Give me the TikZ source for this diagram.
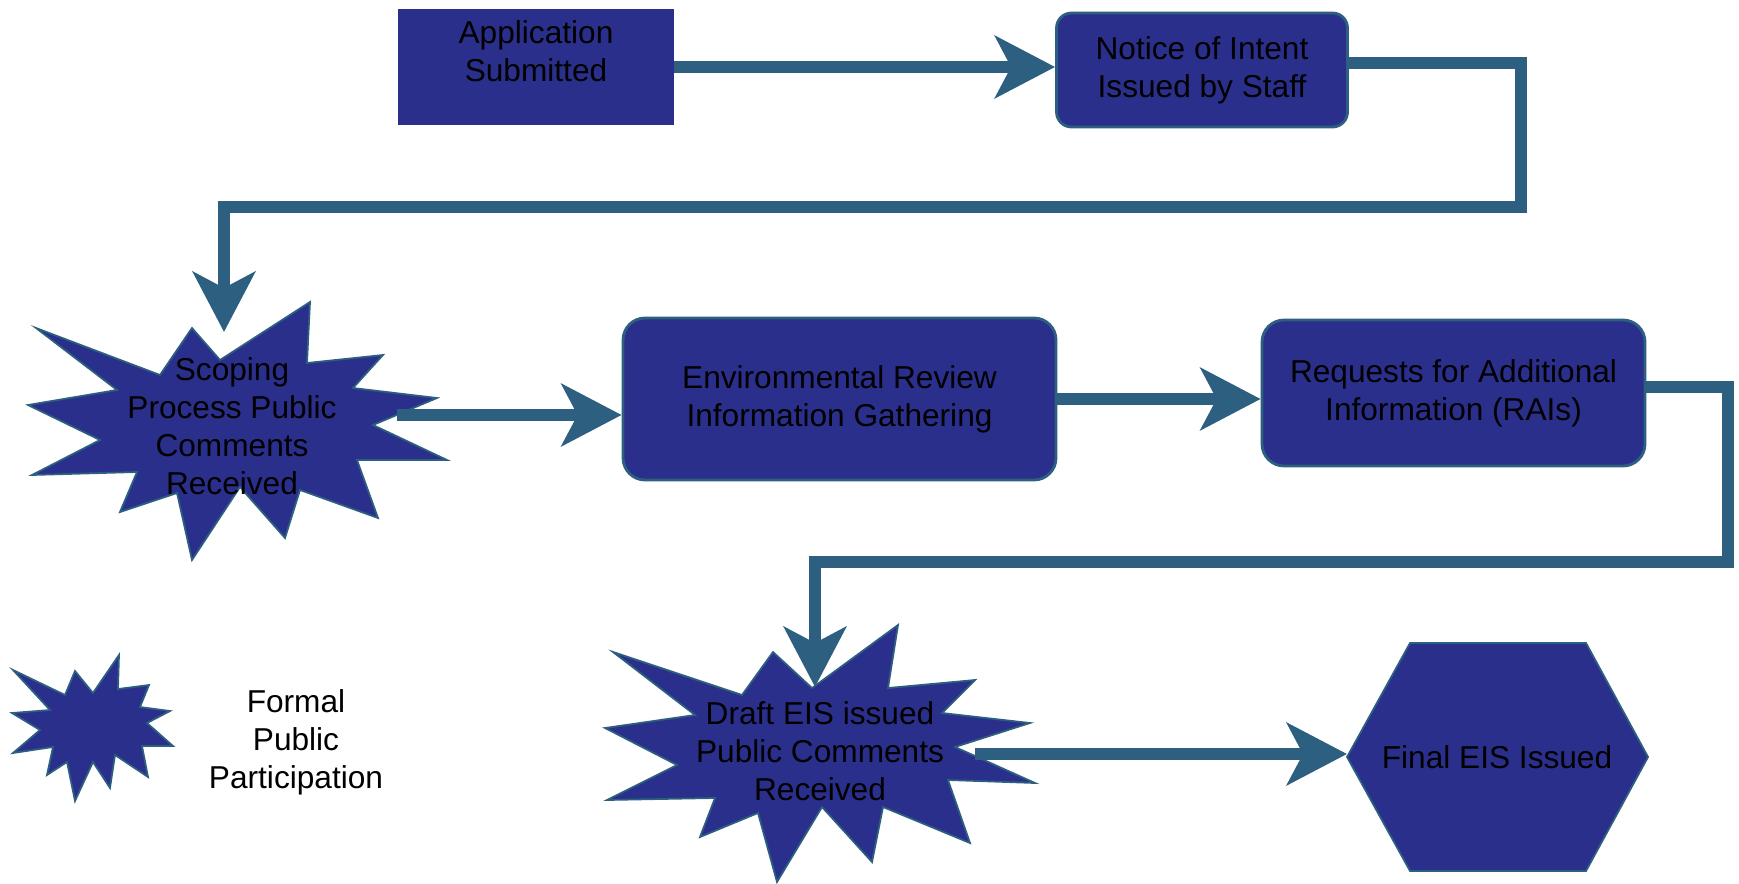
\documentclass[tikz,border=0pt]{standalone}
\usepackage{fontspec}
\setmainfont{Liberation Sans}
\usepackage{xcolor}
\usepackage{tikz}
\usetikzlibrary{arrows.meta, positioning}

\definecolor{boxblue}{RGB}{43,47,140}
\definecolor{flowteal}{RGB}{45,95,128}

\begin{document}
\begin{tikzpicture}[
	txt/.style={align=center, font=\fontsize{9}{10.8}\selectfont, text=black},
	stepbox/.style={txt, shape=rectangle, fill=boxblue, draw=flowteal, line width=0.8pt},
	roundbox/.style={stepbox, rounded corners=0.22cm},
	burst/.style={fill=boxblue, draw=flowteal, line width=0.5pt, line join=miter},
	flow/.style={draw=flowteal, line width=3.2pt, -{Stealth[length=6mm, width=6.2mm, inset=1.6mm]}}]
			% Paths, nodes and wires:
			\useasboundingbox (0,0) rectangle (17.39,8.83);
			\filldraw[burst] (0.36,5.55) -- (1.60,5.08) -- (1.92,5.55) -- (2.20,5.23) -- (3.10,5.81) -- (3.07,5.20) -- (3.83,5.28) -- (3.53,4.95) -- (4.37,4.85) -- (3.73,4.58) -- (4.47,4.23) -- (3.57,4.23) -- (3.78,3.65) -- (3.00,3.93) -- (2.85,3.45) -- (2.40,3.96) -- (1.92,3.23) -- (1.77,3.90) -- (1.20,3.71) -- (1.37,4.11) -- (0.32,4.08) -- (1.00,4.43) -- (0.28,4.78) -- (1.17,4.93) -- cycle;
			\filldraw[burst] (6.13,2.31) -- (7.42,1.88) -- (7.73,2.31) -- (8.12,1.95) -- (8.98,2.58) -- (8.88,1.95) -- (9.75,2.03) -- (9.42,1.70) -- (10.30,1.60) -- (9.55,1.36) -- (10.35,1.00) -- (9.48,1.03) -- (9.70,0.40) -- (8.83,0.76) -- (8.72,0.21) -- (8.22,0.76) -- (7.77,0.01) -- (7.58,0.70) -- (7.00,0.46) -- (7.15,0.85) -- (6.07,0.83) -- (6.77,1.18) -- (6.05,1.55) -- (6.95,1.68) -- cycle;
			\filldraw[burst] (0.13,2.13) -- (0.65,1.88) -- (0.75,2.12) -- (0.93,1.90) -- (1.19,2.28) -- (1.18,1.94) -- (1.49,1.98) -- (1.40,1.76) -- (1.70,1.72) -- (1.47,1.60) -- (1.73,1.37) -- (1.42,1.37) -- (1.48,1.06) -- (1.15,1.28) -- (1.10,0.95) -- (0.93,1.21) -- (0.75,0.82) -- (0.67,1.21) -- (0.47,1.08) -- (0.53,1.36) -- (0.13,1.30) -- (0.40,1.53) -- (0.12,1.70) -- (0.50,1.73) -- cycle;
			\filldraw[burst] (13.47,1.26) -- (14.10,2.40) -- (15.86,2.40) -- (16.48,1.26) -- (15.86,0.12) -- (14.10,0.12) -- cycle;
			\node[stepbox, draw=boxblue, minimum width=2.74cm, minimum height=1.13cm] (app) at (5.36,8.16){};
			\node[txt] (apptext) at (5.36,8.32){Application\\Submitted};
			\node[roundbox, rounded corners=0.15cm, minimum width=2.91cm, minimum height=1.14cm] (notice) at (12.02,8.13){Notice of Intent\\Issued by Staff};
			\node[roundbox, minimum width=4.33cm, minimum height=1.62cm] (envrev) at (8.395,4.84){Environmental Review\\Information Gathering};
			\node[roundbox, minimum width=3.83cm, minimum height=1.46cm] (rai) at (14.535,4.90){Requests for Additional\\Information (RAIs)};
			\node[txt] (scoping) at (2.32,4.57){Scoping\\Process Public\\Comments\\Received};
			\node[txt] (draft) at (8.20,1.32){Draft EIS issued\\Public Comments\\Received};
			\node[txt] (final) at (14.97,1.26){Final EIS Issued};
			\node[txt] (legend) at (2.96,1.41){Formal\\Public\\Participation};
			\coordinate (c1) at (15.21,6.76);
			\coordinate (scopetip) at (2.24,5.51);
			\coordinate (scopeout) at (3.97,4.68);
			\coordinate (c2) at (17.28,3.21);
			\coordinate (drafttip) at (8.15,1.96);
			\coordinate (draftout) at (9.75,1.29);
			\coordinate (finalin) at (13.47,1.29);
			\draw[flow] (app.east) -- (app.east -| notice.west);
			\draw[flow] ([yshift=0.07cm]notice.east) -| (c1) -| (scopetip);
			\draw[flow] (scopeout) -- (scopeout -| envrev.west);
			\draw[flow] (envrev.east) -- (envrev.east -| rai.west);
			\draw[flow] ([yshift=0.06cm]rai.east) -| (c2) -| (drafttip);
			\draw[flow] (draftout) -- (finalin);
		\end{tikzpicture}
\end{document}
